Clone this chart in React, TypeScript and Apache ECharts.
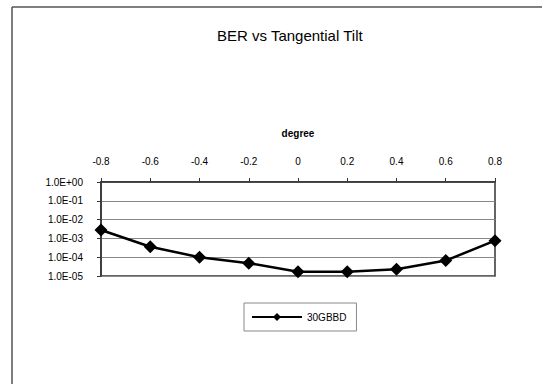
import React, { useEffect, useRef } from "react";
import * as echarts from "echarts";

const degrees = [-0.8, -0.6, -0.4, -0.2, 0, 0.2, 0.4, 0.6, 0.8];
const berValues = [2.8e-3, 3.6e-4, 1.0e-4, 4.8e-5, 1.7e-5, 1.7e-5, 2.3e-5, 6.6e-5, 7.6e-4];
const seriesName = "30GBBD";
const titleText = "BER vs Tangential Tilt";
const xAxisName = "degree";

function fmtExp(v: number): string {
  const e = Math.round(Math.log10(v));
  return `1.0E${e >= 0 ? "+" : "-"}${String(Math.abs(e)).padStart(2, "0")}`;
}

export default function App() {
  const ref = useRef<HTMLDivElement>(null);
  useEffect(() => {
    if (!ref.current) return;
    const chart = echarts.init(ref.current, undefined, { renderer: "svg" });
    const font = "'Liberation Sans', Arial, sans-serif";
    chart.setOption({
      animation: false,
      backgroundColor: "#fff",
      textStyle: { fontFamily: font },
      title: {
        text: titleText,
        left: 212,
        top: 23,
        textStyle: { fontSize: 15, fontWeight: "normal", color: "#000", fontFamily: font },
      },
      graphic: [
        { type: "line", shape: { x1: 12, y1: 7, x2: 542, y2: 7 }, style: { stroke: "#555", lineWidth: 1.5 } },
        { type: "line", shape: { x1: 12, y1: 7, x2: 12, y2: 384 }, style: { stroke: "#555", lineWidth: 1.5 } },
      ],
      grid: {
        left: 101,
        top: 182,
        width: 394,
        height: 94,
        show: true,
        borderColor: "#333",
        borderWidth: 1.5,
        backgroundColor: "transparent",
      },
      legend: {
        left: 244,
        top: 303,
        width: 114,
        data: [seriesName],
        itemWidth: 50,
        itemHeight: 10,
        borderColor: "#888",
        borderWidth: 1,
        padding: [9, 10, 9, 7],
        itemGap: 4,
        textStyle: { fontSize: 10, color: "#000", fontFamily: font },
      },
      xAxis: {
        type: "value",
        position: "top",
        min: -0.8,
        max: 0.8,
        interval: 0.2,
        name: xAxisName,
        nameLocation: "middle",
        nameGap: 44,
        nameTextStyle: { fontSize: 10, fontWeight: "bold", color: "#000" },
        axisLine: { show: true, onZero: false, lineStyle: { color: "#333", width: 1.5 } },
        axisTick: { show: true, inside: false, length: 4, lineStyle: { color: "#333" } },
        axisLabel: {
          fontSize: 10,
          color: "#000",
          margin: 16,
          formatter: (v: number) => String(Math.round(v * 10) / 10),
        },
        splitLine: { show: false },
      },
      yAxis: {
        type: "log",
        logBase: 10,
        min: 1e-5,
        max: 1,
        axisLine: { show: true, onZero: false, lineStyle: { color: "#333", width: 1.5 } },
        axisTick: { show: true, inside: false, length: 4, lineStyle: { color: "#333" } },
        axisLabel: { fontSize: 10, color: "#000", margin: 18, formatter: fmtExp },
        splitLine: { show: true, lineStyle: { color: "#888", width: 1 } },
        minorTick: { show: false },
      },
      series: [
        {
          name: seriesName,
          type: "line",
          data: degrees.map((d, i) => [d, berValues[i]]),
          symbol: "diamond",
          symbolSize: 13,
          itemStyle: { color: "#000" },
          lineStyle: { color: "#000", width: 2.5 },
        },
      ],
    });
    return () => chart.dispose();
  }, []);
  return (
    <div
      ref={ref}
      style={{ position: "fixed", left: 0, top: 0, width: 542, height: 384 }}
    />
  );
}
